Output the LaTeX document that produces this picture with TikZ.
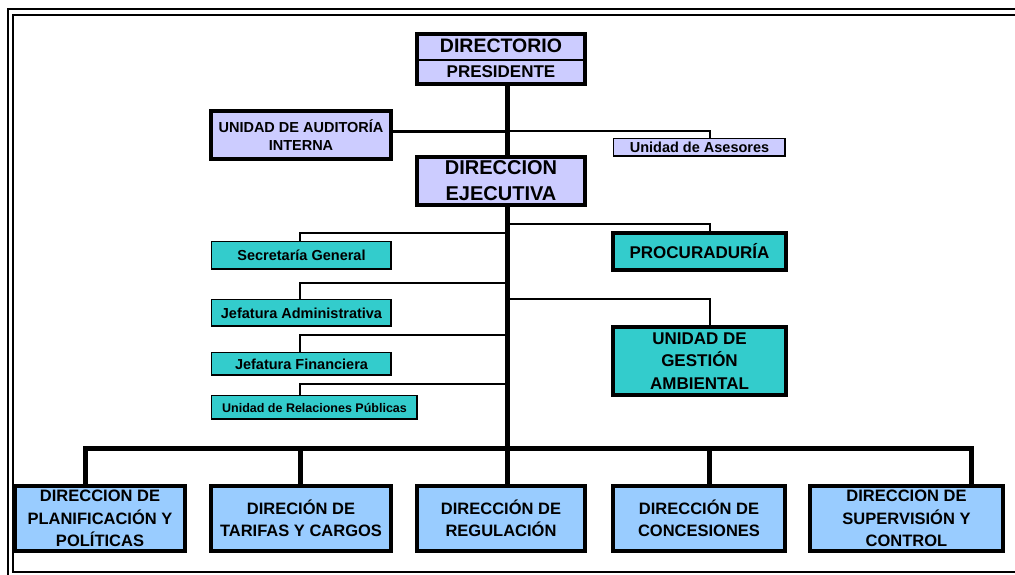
\documentclass[tikz,border=0pt]{standalone}
\usepackage{fontspec}
\setmainfont{Liberation Sans}
\definecolor{lavanda}{RGB}{204,204,255}
\definecolor{turquesa}{RGB}{51,204,204}
\definecolor{celeste}{RGB}{153,204,255}

\begin{document}
\begin{tikzpicture}
[x=1pt,y=-1pt,
 bigbox/.style={draw=black,line width=4pt,inner sep=0pt,align=center,font=\bfseries},
 smallbox/.style={draw=black,line width=0.8pt,fill=turquesa,inner sep=0pt,align=center,
   font=\bfseries\fontsize{14.5}{17}\selectfont,
   path picture={\draw[line width=3pt] (path picture bounding box.north east) -- (path picture bounding box.south east) -- (path picture bounding box.south west);}},
 trunkline/.style={black,line width=5pt},
 midline/.style={black,line width=3pt},
 thinline/.style={black,line width=1.3pt}]

\useasboundingbox (0,0) rectangle (1015,574);
\clip (0,0) rectangle (1015,574);

% marco
\draw[line width=2.5pt] (8,9) rectangle (1040,580);
\draw[line width=1.5pt] (13,15) rectangle (1035,572);

% directorio
\node[bigbox,fill=lavanda,minimum width=168,minimum height=50](dir) at (501,59){};
\draw[line width=2pt] (dir.west |- 0,60) -- (dir.east |- 0,60);
\node[font=\bfseries\fontsize{19.5}{22}\selectfont,inner sep=0pt](dirT) at (501,46){DIRECTORIO};
\node[font=\bfseries\fontsize{17}{20}\selectfont,inner sep=0pt](presT) at (501,72){PRESIDENTE};

% eje central
\coordinate (tr) at (507,0);
\foreach \x [count=\i] in {85,300,507,709,971} \coordinate (bus\i) at (\x,448);
\draw[trunkline] (dir.south -| tr) -- (bus3);

% auditoria y asesores
\node[bigbox,fill=lavanda,minimum width=180,minimum height=48,font=\bfseries\fontsize{14.5}{18}\selectfont](audit) at (301,135){UNIDAD DE AUDITORÍA\\INTERNA};
\node[smallbox,fill=lavanda,minimum width=172,minimum height=18](ases) at (699.5,147.5){Unidad de Asesores};
\coordinate (asesJ) at (710,131);
\draw[midline] ([yshift=4pt]audit.east) -- ([yshift=4pt]audit.east -| tr);
\draw[thinline] (asesJ -| tr) -- (asesJ) -- (asesJ |- ases.north);

% direccion ejecutiva
\node[bigbox,fill=lavanda,minimum width=168,minimum height=48,font=\bfseries\fontsize{20}{26}\selectfont](ejec) at (501,181){DIRECCION\\EJECUTIVA};

% unidades de apoyo
\node[smallbox,minimum width=180,minimum height=28](secre) at (301.5,255.5){Secretaría General};
\node[smallbox,minimum width=180,minimum height=27](jadm) at (301.5,313){Jefatura Administrativa};
\node[smallbox,minimum width=180,minimum height=23](jfin) at (301.5,364){Jefatura Financiera};
\node[smallbox,minimum width=206,minimum height=24,font=\bfseries\fontsize{12.5}{15}\selectfont](relpub) at (314.5,407.5){Unidad de Relaciones Públicas};
\coordinate (secJ) at (300,233);
\coordinate (admJ) at (300,283);
\coordinate (finJ) at (300,335);
\coordinate (relJ) at (300,384);
\foreach \j/\b in {secJ/secre,admJ/jadm,finJ/jfin,relJ/relpub}
  \draw[thinline] (\j -| tr) -- (\j) -- (\j |- \b.north);

% procuraduria y gestion ambiental
\node[bigbox,fill=turquesa,minimum width=173,minimum height=37,font=\bfseries\fontsize{17}{20}\selectfont](procur) at (699.5,251.5){PROCURADURÍA};
\node[bigbox,fill=turquesa,minimum width=173,minimum height=68,font=\bfseries\fontsize{17}{22.5}\selectfont](gestion) at (699.5,361){UNIDAD DE\\GESTIÓN\\AMBIENTAL};
\coordinate (proJ) at (710,224);
\coordinate (gesJ) at (710,299);
\foreach \j/\b in {proJ/procur,gesJ/gestion}
  \draw[thinline] (\j -| tr) -- (\j) -- (\j |- \b.north);

% direcciones
\tikzset{dirbox/.style={bigbox,fill=celeste,minimum height=65,font=\bfseries\fontsize{16.5}{22.5}\selectfont}}
\node[dirbox,minimum width=170](b1) at (100,518.5){DIRECCION DE\\PLANIFICACIÓN Y\\POLÍTICAS};
\node[dirbox,minimum width=180](b2) at (301,518.5){DIRECIÓN DE\\TARIFAS Y CARGOS};
\node[dirbox,minimum width=168](b3) at (501,518.5){DIRECCIÓN DE\\REGULACIÓN};
\node[dirbox,minimum width=172](b4) at (699,518.5){DIRECCIÓN DE\\CONCESIONES};
\node[dirbox,minimum width=193](b5) at (906.5,518.5){DIRECCION DE\\SUPERVISIÓN Y\\CONTROL};
\draw[trunkline] (b1.north -| bus1) -- (bus1) -- (bus5) -- (b5.north -| bus5);
\foreach \i in {2,3,4}
  \draw[trunkline] (bus\i) -- (bus\i |- b\i.north);

\end{tikzpicture}
\end{document}
